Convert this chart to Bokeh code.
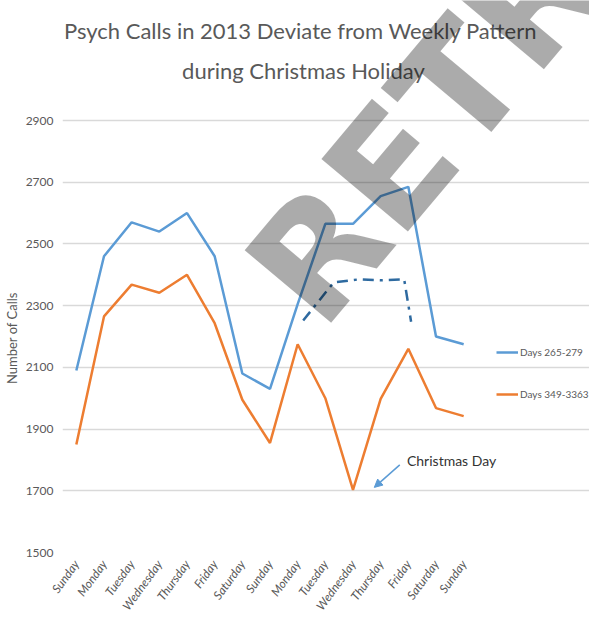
from bokeh.plotting import figure
from bokeh.models import (ColumnDataSource, FixedTicker, Legend, LegendItem, Label,
                          Arrow, NormalHead)
from bokeh.embed import file_html
from bokeh.resources import INLINE
import math

# ---------------- data ----------------
days = ["Sunday", "Monday", "Tuesday", "Wednesday", "Thursday", "Friday", "Saturday",
        "Sunday", "Monday", "Tuesday", "Wednesday", "Thursday", "Friday", "Saturday", "Sunday"]
days_265_279 = [2090, 2460, 2570, 2540, 2600, 2460, 2080, 2030, 2305, 2565, 2565, 2655, 2685, 2200, 2175]
days_349_3363 = [1850, 2265, 2368, 2342, 2400, 2243, 1995, 1855, 2175, 2000, 1703, 1998, 2160, 1968, 1942]
# expected holiday pattern (dash-dot sketch)
expected_x = [8.2, 9.3, 10.2, 11.0, 11.85, 12.1]
expected_y = [2252, 2375, 2385, 2382, 2385, 2248]
y_ticks = [1500, 1700, 1900, 2100, 2300, 2500, 2700, 2900]
y_min, y_max = 1500, 2900

title_line1 = "Psych Calls in 2013 Deviate from  Weekly Pattern"
title_line2 = "during Christmas Holiday"
y_label = "Number of Calls"

FONT = "Lato"
GREY = "#595959"

# ---------------- layout ----------------
LEFT, BOTTOM = 55, 72            # axis panels
FRAME_W, FRAME_H = 527, 552      # full drawing frame (px)
DATA_W, DATA_H = 415, 432        # gridded data area (px)
n = len(days)
px_per_x = DATA_W / n
px_per_y = DATA_H / (y_max - y_min)
x_end = -0.5 + FRAME_W / px_per_x
y_end = y_min + FRAME_H / px_per_y

x_idx = list(range(n))
src = ColumnDataSource(dict(x=x_idx, a=days_265_279, b=days_349_3363))

p = figure(frame_width=FRAME_W, frame_height=FRAME_H, output_backend="svg",
           toolbar_location=None, x_range=(-0.5, x_end), y_range=(y_min, y_end),
           min_border_left=LEFT, min_border_right=0, min_border_top=0,
           min_border_bottom=BOTTOM)
p.outline_line_color = None
p.background_fill_color = "white"

# axes
p.xaxis.ticker = FixedTicker(ticks=x_idx)
p.xaxis.bounds = (-0.5, n - 0.5)
p.xaxis.major_label_overrides = {i: d for i, d in enumerate(days)}
p.xaxis.major_label_orientation = math.radians(54)
p.xaxis.major_label_text_font = FONT
p.xaxis.major_label_text_font_style = "italic"
p.xaxis.major_label_text_font_size = "12px"
p.xaxis.major_label_text_color = GREY
p.xaxis.major_label_standoff = 9
p.yaxis.ticker = FixedTicker(ticks=y_ticks)
p.yaxis.bounds = (y_min, y_max)
p.yaxis.major_label_text_font = FONT
p.yaxis.major_label_text_font_size = "12px"
p.yaxis.major_label_text_color = GREY
p.yaxis.major_label_standoff = 9
# trailing no-break spaces shift the centred label down to the gridded area's middle
p.yaxis.axis_label = y_label + "\u00a0" * 37
p.yaxis.axis_label_text_font = FONT
p.yaxis.axis_label_text_font_style = "normal"
p.yaxis.axis_label_text_font_size = "13px"
p.yaxis.axis_label_text_color = GREY
p.yaxis.axis_label_standoff = 3
for ax in (p.xaxis, p.yaxis):
    ax.axis_line_color = None
    ax.major_tick_line_color = None
    ax.minor_tick_line_color = None
    ax.major_tick_out = 0
    ax.major_tick_in = 0
    ax.minor_tick_out = 0
    ax.minor_tick_in = 0
p.xgrid.grid_line_color = None
p.ygrid.grid_line_color = "#d9d9d9"
p.ygrid.grid_line_width = 1.5
p.ygrid.bounds = (-0.5, n - 0.5)

r1 = p.line("x", "a", source=src, line_color="#5b9bd5", line_width=2.5)
r2 = p.line("x", "b", source=src, line_color="#ed7d31", line_width=2.5)
p.line(expected_x, expected_y, line_color="#2e6aa0", line_width=2.5, line_dash="11 6 3 6")

legend = Legend(items=[LegendItem(label="Days 265-279", renderers=[r1]),
                       LegendItem(label="Days 349-3363", renderers=[r2])],
                location=(434, 148), margin=0, padding=0, spacing=22,
                glyph_width=22, glyph_height=20, label_height=20, label_standoff=2,
                label_text_font=FONT, label_text_font_size="10px",
                label_text_color=GREY, border_line_color=None, background_fill_alpha=0)
p.add_layout(legend, "center")

# titles (two centred lines above the plot area)
for txt, yy in ((title_line1, 3192), (title_line2, 3062)):
    p.add_layout(Label(x=8.21, y=yy, text=txt, text_font=FONT, text_font_size="22px",
                       text_color=GREY, text_align="center", text_baseline="middle"))

# annotation
p.add_layout(Label(x=11.95, y=1797, text="Christmas Day", text_font=FONT,
                   text_font_size="14px", text_color="#333333", text_baseline="middle"))
p.add_layout(Arrow(x_start=11.69, y_start=1784, x_end=10.77, y_end=1711,
                   line_color="#5b9bd5", line_width=1.5,
                   end=NormalHead(size=8, fill_color="#5b9bd5", line_color="#5b9bd5")))

# watermark
p.add_layout(Label(x=7.40, y=2320, text="RETRACTED", angle=math.radians(50),
                   text_font="DejaVu Sans", text_font_style="bold",
                   text_baseline="alphabetic",
                   text_font_size="155px", text_color="black", text_alpha=0.33,
                   level="overlay"))

open("out.html", "w").write(file_html(p, INLINE))
